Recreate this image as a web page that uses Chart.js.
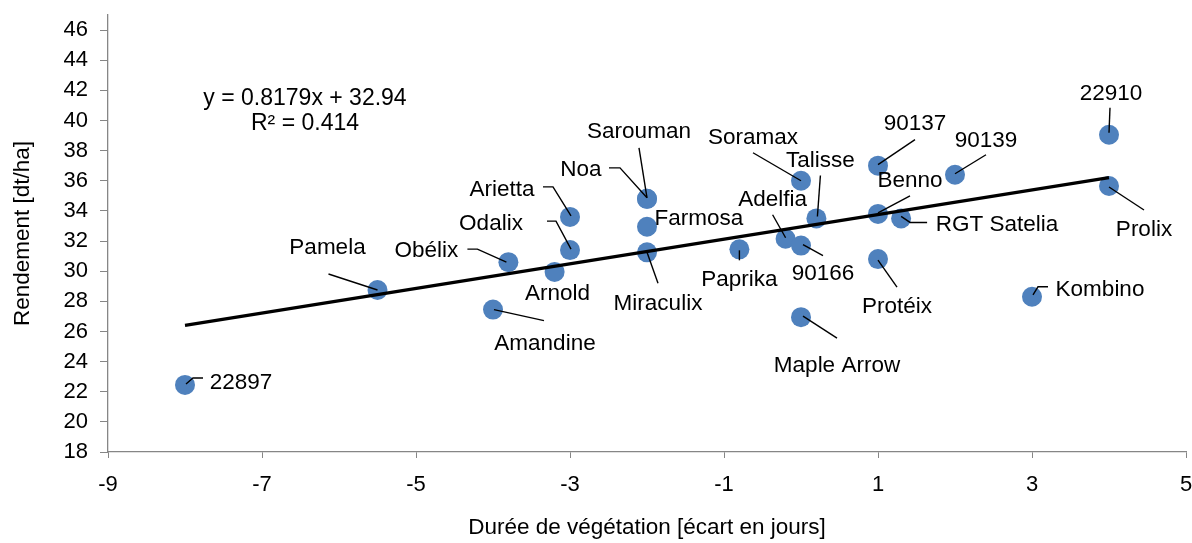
<!DOCTYPE html>
<html>
<head>
<meta charset="utf-8">
<script src="https://cdn.jsdelivr.net/npm/chart.js@4.4.1/dist/chart.umd.min.js"></script>
<style>
    html, body { margin: 0; padding: 0; background: #fff; }
    #cadre { width: 1192px; height: 543px; position: relative; }
</style>
</head>
<body>
<div id="cadre"><canvas id="graficoRendement"></canvas></div>
<script>
// Rendement vs durée de végétation

const varietes = ['22897', 'Pamela', 'Amandine', 'Obélix', 'Arnold', 'Arietta', 'Odalix',
    'Sarouman', 'Noa', 'Farmosa', 'Miraculix', 'Paprika', 'Adelfia', '90166', 'Soramax',
    'Talisse', 'Maple Arrow', '90137', 'Benno', 'Protéix', 'RGT Satelia', '90139',
    '22910', 'Prolix', 'Kombino'];
const ecartJours = [-8, -5.5, -4, -3.8, -3.2, -3, -3, -2, -2, -2, -2, -0.8, -0.2, 0, 0,
    0.2, 0, 1, 1, 1, 1.3, 2, 4, 4, 3];
const rendement = [22.45, 28.75, 27.45, 30.6, 29.95, 33.6, 31.4, 34.8, 34.8, 32.95, 31.25,
    31.45, 32.15, 31.7, 36.0, 33.5, 26.95, 37.0, 33.8, 30.8, 33.5, 36.4, 39.05, 35.65, 28.3];

const tendanceX = [-8, 4];
const tendanceY = [26.40, 36.21];
const equation = ['y = 0.8179x + 32.94', 'R² = 0.414'];

const ticksX = [-9, -7, -5, -3, -1, 1, 3, 5];
const ticksY = [18, 20, 22, 24, 26, 28, 30, 32, 34, 36, 38, 40, 42, 44, 46];

// Placement des étiquettes : décalage du texte (t) et trait de rappel (trait), en px depuis le point
const placement = [
    { t: [56, -3], trait: [[1, -1], [8, -7], [18, -7]] },
    { t: [-50, -43], trait: [[0, 0], [-49, -16]] },
    { t: [52, 33], trait: [[1, 0], [51, 11]] },
    { t: [-82, -12], trait: [[-2, 0], [-31, -13], [-41, -13]] },
    { t: [3, 21], trait: null },
    { t: [-68, -28], trait: [[1, -1], [-17, -30], [-27, -30]] },
    { t: [-79, -27], trait: [[1, -1], [-14, -29], [-23, -29]] },
    { t: [-8, -68], trait: [[0, -1], [-8, -51]] },
    { t: [-66, -30], trait: [[0, -1], [-27, -31], [-38, -31]] },
    { t: [52, -9], trait: null },
    { t: [11, 50], trait: [[0, 0], [11, 31]] },
    { t: [0, 29], trait: [[0, 1], [0, 11]] },
    { t: [-13, -40], trait: [[0, -1], [-13, -24]] },
    { t: [22, 27], trait: [[2, -1], [22, 10]] },
    { t: [-48, -44], trait: [[0, 0], [-48, -28]] },
    { t: [4, -59], trait: [[1, -2], [4, -43]] },
    { t: [36, 48], trait: [[2, -1], [36, 21]] },
    { t: [37, -43], trait: [[0, -1], [37, -26]] },
    { t: [32, -34], trait: [[0, -1], [32, -18]] },
    { t: [19, 47], trait: [[0, 1], [19, 28]] },
    { t: [96, 5], trait: [[0, -2], [9, 4], [26, 4]] },
    { t: [31, -35], trait: [[0, -1], [31, -20]] },
    { t: [2, -42], trait: [[0, -2], [1, -27]] },
    { t: [35, 43], trait: [[0, 1], [35, 24]] },
    { t: [68, -8], trait: [[1, -2], [6, -10], [16, -10]] }
];

const police = '"Liberation Sans", Arial, sans-serif';

const etiquettesPlugin = {
    id: 'etiquettes',
    afterDatasetsDraw(chart) {
        const ctx = chart.ctx;
        const meta = chart.getDatasetMeta(1);
        ctx.save();
        ctx.font = '22.5px ' + police;
        ctx.fillStyle = '#000';
        ctx.strokeStyle = '#000';
        ctx.lineWidth = 1.4;
        ctx.textAlign = 'center';
        ctx.textBaseline = 'middle';
        meta.data.forEach(function(pt, i) {
            const p = placement[i];
            if (p.trait) {
                ctx.beginPath();
                p.trait.forEach(function(d, k) {
                    if (k === 0) ctx.moveTo(pt.x + d[0], pt.y + d[1]);
                    else ctx.lineTo(pt.x + d[0], pt.y + d[1]);
                });
                ctx.stroke();
            }
            ctx.fillText(varietes[i], pt.x + p.t[0], pt.y + p.t[1] + 1);
        });
        // Équation de la tendance
        const a = chart.chartArea;
        ctx.font = '23px ' + police;
        ctx.fillText(equation[0], a.left + 197, a.top + 84);
        ctx.fillText(equation[1], a.left + 197, a.top + 109);
        ctx.restore();
    }
};

const ctx = document.getElementById('graficoRendement');

new Chart(ctx, {
    type: 'scatter',
    data: {
        datasets: [{
            type: 'line',
            label: 'Tendance',
            data: tendanceX.map(function(x, i) { return { x: x, y: tendanceY[i] }; }),
            borderColor: '#000',
            borderWidth: 3.2,
            pointRadius: 0,
            fill: false,
            order: 0
        }, {
            label: 'Variétés',
            data: ecartJours.map(function(x, i) { return { x: x, y: rendement[i] }; }),
            backgroundColor: '#4F81BD',
            borderWidth: 0,
            pointRadius: 10,
            pointHoverRadius: 10,
            order: 1
        }]
    },
    options: {
        responsive: true,
        maintainAspectRatio: false,
        animation: false,
        layout: { autoPadding: false, padding: { top: 15, right: 6, left: 0, bottom: 0 } },
        plugins: {
            legend: { display: false },
            title: { display: false },
            tooltip: { enabled: false }
        },
        scales: {
            x: {
                type: 'linear',
                min: -9,
                max: 5,
                afterBuildTicks: function(s) { s.ticks = ticksX.map(function(v) { return { value: v }; }); },
                afterFit: function(s) {
                    s.height = 91;
                    s.paddingLeft = 0;
                    s.paddingRight = 0;
                },
                grid: { drawOnChartArea: false, tickLength: 6, color: '#868686' },
                border: { color: '#868686', width: 1.3 },
                ticks: { color: '#000', font: { size: 22, family: police }, padding: 14, maxRotation: 0 },
                title: {
                    display: true,
                    text: 'Durée de végétation [écart en jours]',
                    color: '#000',
                    font: { size: 22.5, family: police },
                    padding: { top: 0, bottom: 2 }
                }
            },
            y: {
                type: 'linear',
                min: 18,
                max: 47,
                afterBuildTicks: function(s) { s.ticks = ticksY.map(function(v) { return { value: v }; }); },
                afterFit: function(s) {
                    s.width = 108;
                    s.paddingTop = 0;
                    s.paddingBottom = 0;
                },
                grid: { drawOnChartArea: false, tickLength: 8, color: '#868686' },
                border: { color: '#868686', width: 1.3 },
                ticks: { color: '#000', font: { size: 22, family: police }, padding: 12 },
                title: {
                    display: true,
                    text: 'Rendement [dt/ha]',
                    color: '#000',
                    font: { size: 22.5, family: police },
                    padding: { top: 9, bottom: 0 }
                }
            }
        }
    },
    plugins: [etiquettesPlugin]
});
</script>
</body>
</html>
